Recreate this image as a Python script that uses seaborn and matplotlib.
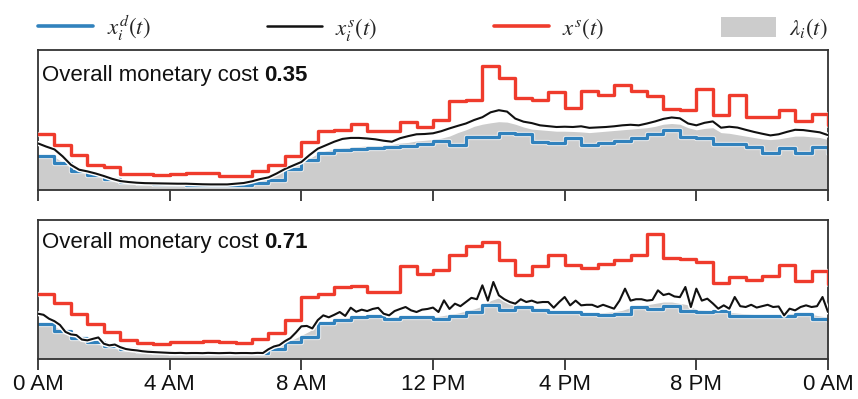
import numpy as np
import pandas as pd
import matplotlib
matplotlib.use("Agg")
import matplotlib.pyplot as plt
import matplotlib.patheffects as pe
from matplotlib.lines import Line2D
from matplotlib.patches import Patch
import seaborn as sns

# ---------------- data (fraction of panel height) ----------------
hours_half = np.arange(49) * 0.5          # half-hour step grid (0..24)
hours_quarter = np.arange(97) * 0.25      # quarter-hour grid
hours_ten = np.arange(145) / 6.0          # ten-minute grid

tick_hours = [0, 4, 8, 12, 16, 20, 24]
tick_labels = ["0 AM", "4 AM", "8 AM", "12 PM", "4 PM", "8 PM", "0 AM"]
costs = ["0.35", "0.71"]

# top panel
red_top = [0.40, 0.324, 0.248, 0.176, 0.162, 0.114, 0.114, 0.11, 0.114, 0.119, 0.119, 0.102,
           0.102, 0.138, 0.176, 0.24, 0.343, 0.419, 0.431, 0.471, 0.419, 0.419, 0.486, 0.448,
           0.502, 0.638, 0.645, 0.883, 0.80, 0.657, 0.645, 0.70, 0.586, 0.705, 0.681, 0.748,
           0.71, 0.674, 0.581, 0.574, 0.724, 0.538, 0.676, 0.521, 0.521, 0.569, 0.49, 0.545,
           0.467]
blue_top = [0.245, 0.19, 0.135, 0.11, 0.08, 0.06, 0.05, 0.045, 0.04, 0.038, 0.036, 0.033,
            0.036, 0.05, 0.075, 0.15, 0.215, 0.265, 0.285, 0.295, 0.30, 0.31, 0.315, 0.33,
            0.348, 0.319, 0.376, 0.38, 0.407, 0.40, 0.343, 0.338, 0.371, 0.319, 0.336, 0.352,
            0.371, 0.40, 0.431, 0.376, 0.371, 0.329, 0.329, 0.305, 0.264, 0.30, 0.264, 0.31,
            0.264]
black_top = [0.333, 0.31, 0.29, 0.24, 0.18, 0.145, 0.133, 0.118, 0.10, 0.08, 0.064, 0.057,
             0.052, 0.049, 0.048, 0.047, 0.046, 0.045, 0.045, 0.043, 0.041, 0.04, 0.04, 0.04,
             0.045, 0.05, 0.062, 0.078, 0.09, 0.118, 0.15, 0.175, 0.20, 0.25, 0.295, 0.32,
             0.345, 0.365, 0.372, 0.372, 0.368, 0.362, 0.352, 0.345, 0.37, 0.385, 0.398, 0.40,
             0.405, 0.42, 0.44, 0.458, 0.475, 0.50, 0.52, 0.555, 0.57, 0.56, 0.51, 0.488,
             0.478, 0.462, 0.456, 0.45, 0.452, 0.45, 0.455, 0.444, 0.447, 0.45, 0.455, 0.462,
             0.466, 0.462, 0.475, 0.49, 0.508, 0.518, 0.512, 0.475, 0.462, 0.48, 0.49, 0.445,
             0.452, 0.446, 0.43, 0.415, 0.402, 0.39, 0.398, 0.415, 0.43, 0.428, 0.42, 0.412,
             0.392]
gray_top = [0.255, 0.25, 0.235, 0.2, 0.16, 0.135, 0.12, 0.105, 0.09, 0.075, 0.06, 0.052,
            0.048, 0.045, 0.043, 0.042, 0.041, 0.04, 0.04, 0.038, 0.037, 0.036, 0.035, 0.035,
            0.038, 0.045, 0.055, 0.07, 0.085, 0.11, 0.14, 0.165, 0.19, 0.225, 0.26, 0.28,
            0.29, 0.30, 0.305, 0.31, 0.315, 0.315, 0.32, 0.325, 0.335, 0.34, 0.35, 0.355,
            0.36, 0.37, 0.385, 0.41, 0.43, 0.455, 0.47, 0.48, 0.488, 0.485, 0.47, 0.45,
            0.435, 0.43, 0.425, 0.42, 0.42, 0.418, 0.415, 0.41, 0.415, 0.42, 0.425, 0.43,
            0.435, 0.44, 0.445, 0.455, 0.47, 0.475, 0.47, 0.445, 0.43, 0.44, 0.445, 0.41,
            0.405, 0.395, 0.385, 0.375, 0.365, 0.36, 0.365, 0.375, 0.385, 0.385, 0.38, 0.375,
            0.36]

# bottom panel
red_bot = [0.47, 0.403, 0.326, 0.25, 0.194, 0.134, 0.115, 0.11, 0.122, 0.125, 0.13, 0.122,
           0.115, 0.146, 0.187, 0.278, 0.446, 0.47, 0.518, 0.523, 0.482, 0.482, 0.667, 0.609,
           0.643, 0.746, 0.81, 0.842, 0.715, 0.602, 0.667, 0.746, 0.674, 0.657, 0.686, 0.715,
           0.746, 0.897, 0.729, 0.722, 0.698, 0.547, 0.59, 0.571, 0.595, 0.679, 0.561, 0.633,
           0.54]
blue_bot = [0.25, 0.2, 0.15, 0.12, 0.095, 0.07, 0.055, 0.048, 0.044, 0.042, 0.04, 0.04,
            0.04, 0.04, 0.075, 0.12, 0.158, 0.259, 0.278, 0.302, 0.307, 0.29, 0.302, 0.302,
            0.29, 0.307, 0.338, 0.386, 0.35, 0.374, 0.355, 0.338, 0.338, 0.326, 0.32, 0.321,
            0.374, 0.362, 0.379, 0.345, 0.338, 0.343, 0.307, 0.307, 0.312, 0.307, 0.326, 0.29,
            0.28]
black_bot = [0.326, 0.318, 0.29, 0.272, 0.245, 0.195, 0.177, 0.172, 0.14, 0.134, 0.145, 0.155,
             0.11, 0.098, 0.104, 0.085, 0.072, 0.066, 0.062, 0.056, 0.052, 0.05, 0.048, 0.046,
             0.044, 0.043, 0.044, 0.042, 0.043, 0.043, 0.042, 0.044, 0.043, 0.042, 0.043, 0.044,
             0.042, 0.043, 0.043, 0.042, 0.044, 0.043, 0.07, 0.09, 0.10, 0.128, 0.15, 0.19,
             0.235, 0.238, 0.22, 0.28, 0.314, 0.30, 0.318, 0.338, 0.31, 0.369, 0.34, 0.355,
             0.345, 0.36, 0.368, 0.326, 0.314, 0.345, 0.36, 0.374, 0.35, 0.338, 0.355, 0.36,
             0.37, 0.338, 0.422, 0.36, 0.398, 0.38, 0.41, 0.44, 0.43, 0.53, 0.42, 0.554,
             0.458, 0.43, 0.41, 0.398, 0.43, 0.41, 0.42, 0.405, 0.41, 0.41, 0.369, 0.41,
             0.446, 0.386, 0.42, 0.386, 0.39, 0.39, 0.374, 0.39, 0.376, 0.362, 0.42, 0.506,
             0.42, 0.43, 0.43, 0.42, 0.425, 0.494, 0.46, 0.47, 0.45, 0.445, 0.518, 0.374,
             0.506, 0.42, 0.434, 0.40, 0.362, 0.386, 0.362, 0.446, 0.38, 0.374, 0.39, 0.37,
             0.38, 0.39, 0.374, 0.378, 0.314, 0.362, 0.35, 0.374, 0.386, 0.374, 0.38, 0.446,
             0.338]
gray_bot = [0.255, 0.25, 0.235, 0.2, 0.17, 0.15, 0.13, 0.11, 0.095, 0.08, 0.068, 0.058,
            0.052, 0.048, 0.045, 0.043, 0.04, 0.04, 0.04, 0.04, 0.04, 0.04, 0.04, 0.04,
            0.04, 0.04, 0.04, 0.04, 0.055, 0.08, 0.11, 0.14, 0.17, 0.2, 0.245, 0.265,
            0.28, 0.29, 0.30, 0.305, 0.305, 0.30, 0.295, 0.30, 0.305, 0.305, 0.30, 0.295,
            0.30, 0.31, 0.32, 0.33, 0.345, 0.36, 0.38, 0.42, 0.44, 0.43, 0.40, 0.375,
            0.36, 0.355, 0.35, 0.345, 0.34, 0.335, 0.335, 0.33, 0.33, 0.335, 0.34, 0.35,
            0.37, 0.38, 0.39, 0.40, 0.41, 0.41, 0.40, 0.39, 0.355, 0.35, 0.345, 0.34,
            0.335, 0.33, 0.325, 0.32, 0.32, 0.32, 0.32, 0.325, 0.33, 0.33, 0.32, 0.31,
            0.30]

# ---------------- style ----------------
sns.set_theme(style="white")
plt.rcParams["font.family"] = ["Liberation Sans", "DejaVu Sans"]
plt.rcParams["mathtext.fontset"] = "stix"

BLUE = "#3182bd"
RED = "#ef3b2c"
BLACK = "#111111"
GRAY = "#cccccc"
SPINE = "#333333"

fig = plt.figure(figsize=(8.58, 3.99), dpi=100)
W, H = 858, 399
def rect(l, t, r, b):
    return [l / W, 1 - b / H, (r - l) / W, (b - t) / H]

ax1 = fig.add_axes(rect(38, 50, 828, 190))
ax2 = fig.add_axes(rect(38, 220, 828, 359))

halo = [pe.Stroke(linewidth=3.6, foreground="white"), pe.Normal()]
soft = [pe.Stroke(linewidth=3.8, foreground="white", alpha=0.6), pe.Normal()]

panels = [
    (ax1, red_top, blue_top, black_top, gray_top, hours_quarter, costs[0], 0.82),
    (ax2, red_bot, blue_bot, black_bot, gray_bot, hours_ten, costs[1], 0.835),
]

for ax, red, blue, black, gray, tblack, cost, ty in panels:
    ax.fill_between(hours_quarter, 0, gray, color=GRAY, linewidth=0, zorder=1)
    df_b = pd.DataFrame({"t": hours_half, "v": blue})
    sns.lineplot(data=df_b, x="t", y="v", ax=ax, color=BLUE, linewidth=2.3,
                 drawstyle="steps-post", zorder=2, path_effects=soft)
    df_k = pd.DataFrame({"t": tblack, "v": black})
    sns.lineplot(data=df_k, x="t", y="v", ax=ax, color=BLACK, linewidth=1.5, zorder=3,
                 path_effects=halo)
    df_r = pd.DataFrame({"t": hours_half, "v": red})
    sns.lineplot(data=df_r, x="t", y="v", ax=ax, color=RED, linewidth=2.4,
                 drawstyle="steps-post", zorder=4, path_effects=soft)

    ax.set_xlim(0, 24)
    ax.set_ylim(0, 1)
    ax.set_xlabel("")
    ax.set_ylabel("")
    ax.set_yticks([])
    ax.set_xticks(tick_hours)
    for s in ax.spines.values():
        s.set_visible(True)
        s.set_color(SPINE)
        s.set_linewidth(1.3)
    ax.tick_params(axis="x", direction="out", length=8, width=1.3, color=SPINE,
                   labelsize=16, pad=3, bottom=True, labelcolor="#111111")

    t1 = ax.text(0.005, ty, "Overall monetary cost ", transform=ax.transAxes,
                 fontsize=16, va="center", ha="left", color="#111111", zorder=5)
    ax.annotate(cost, xy=(1, 0), xycoords=t1, va="bottom", ha="left",
                fontsize=16, fontweight="bold", color="#111111", zorder=5)

ax1.set_xticklabels([])
ax2.set_xticklabels(tick_labels)

handles = [
    Line2D([], [], color=BLUE, linewidth=2.6),
    Line2D([], [], color=BLACK, linewidth=1.8),
    Line2D([], [], color=RED, linewidth=2.6),
    Patch(facecolor=GRAY, edgecolor="none"),
]
labels = [r"$x_i^d(t)$", r"$x_i^s(t)$", r"$x^s(t)$", r"$\lambda_i(t)$"]
ax1.legend(handles, labels, loc="lower left", bbox_to_anchor=(0, 1.05, 1, 0.2),
           mode="expand", ncol=4, frameon=False, fontsize=16.5, handlelength=2.4,
           handleheight=1.0, handletextpad=0.6, borderaxespad=0, borderpad=0)

fig.savefig("out.png", dpi=100)
